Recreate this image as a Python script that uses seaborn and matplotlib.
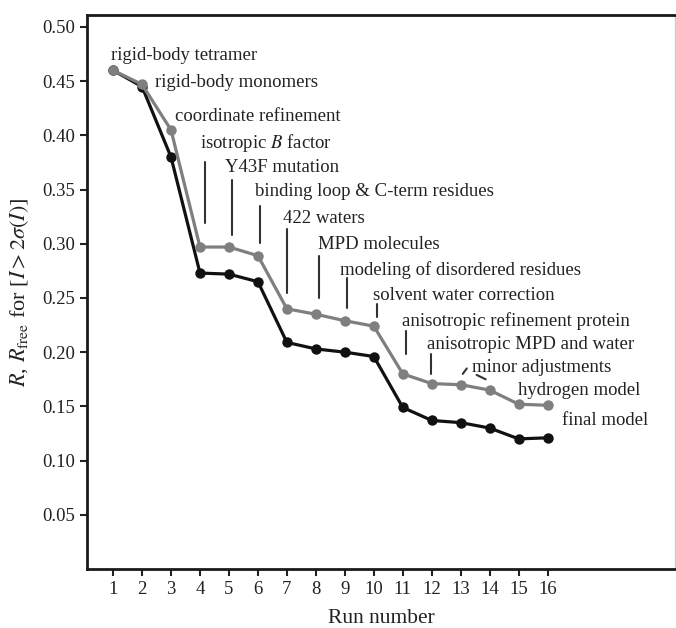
import matplotlib
matplotlib.use("Agg")
import matplotlib.pyplot as plt
import seaborn as sns
import pandas as pd

run = list(range(1, 17))
r_free = [0.460, 0.447, 0.405, 0.297, 0.297, 0.289, 0.240, 0.235, 0.229, 0.224,
          0.180, 0.171, 0.170, 0.165, 0.152, 0.151]
r_work = [0.460, 0.445, 0.380, 0.273, 0.272, 0.265, 0.209, 0.203, 0.200, 0.196,
          0.149, 0.137, 0.135, 0.130, 0.120, 0.121]
labels = ["rigid-body tetramer", "rigid-body monomers", "coordinate refinement",
          "isotropic $B$ factor", "Y43F mutation", "binding loop & C-term residues",
          "422 waters", "MPD molecules", "modeling of disordered residues",
          "solvent water correction", "anisotropic refinement protein",
          "anisotropic MPD and water", "minor adjustments", "hydrogen model",
          "final model"]
yticks = [0.05, 0.10, 0.15, 0.20, 0.25, 0.30, 0.35, 0.40, 0.45, 0.50]

# annotation label positions (data coords)
label_x = [0.93, 2.45, 3.14, 4.0, 4.86, 5.90, 6.86, 8.07, 8.83, 9.97, 10.97, 11.83, 13.38, 14.97, 16.48]
label_y = [0.474, 0.449, 0.417, 0.393, 0.370, 0.348, 0.323, 0.299, 0.276, 0.252, 0.229, 0.207, 0.186, 0.165, 0.137]
# pointer segments (x0, y0, x1, y1)
pointers = [(4.17, 0.375, 4.17, 0.319), (5.10, 0.359, 5.10, 0.308),
            (6.07, 0.335, 6.07, 0.301), (7.0, 0.314, 7.0, 0.255),
            (8.10, 0.289, 8.10, 0.250), (9.07, 0.268, 9.07, 0.241),
            (10.10, 0.244, 10.10, 0.232), (11.10, 0.220, 11.10, 0.198),
            (11.97, 0.198, 11.97, 0.180), (13.07, 0.180, 13.21, 0.185),
            (13.55, 0.179, 13.86, 0.175)]

sns.set_style("ticks")
plt.rcParams['font.family'] = ['Liberation Serif', 'DejaVu Serif']
plt.rcParams['mathtext.fontset'] = 'stix'

df = pd.DataFrame({"run": run * 2, "value": r_free + r_work,
                   "series": ["Rfree"] * 16 + ["R"] * 16})

fig = plt.figure(figsize=(6.76, 6.28), dpi=100)
ax = fig.add_axes([0.1287, 0.094, 0.87, 0.882])

sns.lineplot(data=df, x="run", y="value", hue="series",
             palette={"Rfree": "#7f7f7f", "R": "#111111"},
             hue_order=["R", "Rfree"], marker="o", markersize=7.5,
             markeredgewidth=0, linewidth=2.3, legend=False, ax=ax)

ax.set_xlim(0.10, 20.4)
ax.set_ylim(0.0, 0.511)
ax.set_xticks(run)
ax.set_yticks(yticks)
ax.set_yticklabels([f"{v:.2f}" for v in yticks])
ax.tick_params(axis="both", labelsize=13.5, width=1.5, length=5, color="#222222",
               labelcolor="#222222")
for s in ["left", "bottom", "top"]:
    ax.spines[s].set_linewidth(2)
    ax.spines[s].set_color("#1a1a1a")
ax.spines["right"].set_linewidth(1)
ax.spines["right"].set_color("#cccccc")

for t, x, y in zip(labels, label_x, label_y):
    ax.text(x, y, t, fontsize=13.5, va="center", ha="left", color="#222222")
for x0, y0, x1, y1 in pointers:
    ax.plot([x0, x1], [y0, y1], color="#333333", lw=1.5)

ax.set_xlabel("Run number", fontsize=15.5, color="#222222", labelpad=8)
ax.set_ylabel(r"$R$, $R_{\mathrm{free}}$ for [$I > 2\sigma(I)$]", fontsize=16,
              color="#222222", labelpad=8)

fig.savefig("out.png", dpi=100)
